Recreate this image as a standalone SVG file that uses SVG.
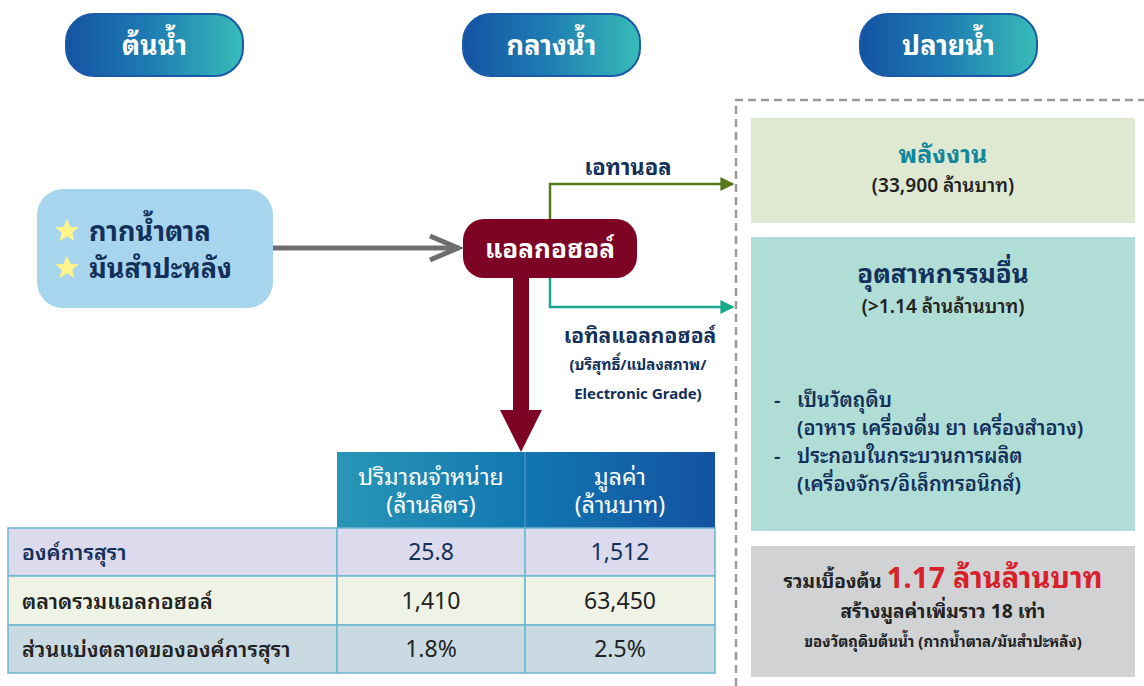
<svg xmlns="http://www.w3.org/2000/svg" width="1144" height="686" viewBox="0 0 1144 686">
<defs>
<linearGradient id="pill" x1="0" y1="0" x2="1" y2="0">
<stop offset="0" stop-color="#1453a3"/><stop offset="0.5" stop-color="#1f7fb3"/><stop offset="1" stop-color="#38bcb8"/>
</linearGradient>
<linearGradient id="thead" x1="0" y1="0" x2="1" y2="0">
<stop offset="0" stop-color="#2996b6"/><stop offset="0.5" stop-color="#1177b0"/><stop offset="1" stop-color="#1452a2"/>
</linearGradient>
<polygon id="star" points="0,-12 3.5,-4.2 11.8,-3.7 5.4,1.8 7.4,10 0,5.5 -7.4,10 -5.4,1.8 -11.8,-3.7 -3.5,-4.2" fill="#fff38c"/>
<marker id="mGreen" viewBox="0 0 10 10" refX="9" refY="5" markerWidth="18" markerHeight="14" markerUnits="userSpaceOnUse" orient="auto"><path d="M0,0 L10,5 L0,10 z" fill="#567a1b"/></marker>
<marker id="mTeal" viewBox="0 0 10 10" refX="9" refY="5" markerWidth="18" markerHeight="14" markerUnits="userSpaceOnUse" orient="auto"><path d="M0,0 L10,5 L0,10 z" fill="#1aa98c"/></marker>
</defs>
<style>
text{font-family:"Noto Sans Thai Looped","Noto Sans Thai","Noto Sans","DejaVu Sans",sans-serif}
.hdr{fill:#fff;font-size:27px;font-weight:bold;text-anchor:middle}
.pill{fill:url(#pill);stroke:#1a5aa8;stroke-width:2}
.navy{fill:#12305a}
.dark{fill:#222}
.c{text-anchor:middle}
.cell{stroke:#6cb6cf;stroke-width:1.5}
</style>

<g id="hdr-up"><rect class="pill" x="66" y="14" width="177" height="62" rx="28"/><text class="hdr" x="154.5" y="55">ต้นน้ำ</text></g>
<g id="hdr-mid"><rect class="pill" x="463" y="14" width="177" height="62" rx="28"/><text class="hdr" x="551.5" y="55">กลางน้ำ</text></g>
<g id="hdr-down"><rect class="pill" x="860" y="14" width="177" height="62" rx="28"/><text class="hdr" x="948.5" y="55">ปลายน้ำ</text></g>

<g id="dashed-frame"><path d="M736,686 V100 H1144" fill="none" stroke="#9a9a9a" stroke-width="2.5" stroke-dasharray="8,5"/></g>

<g id="raw">
<rect x="37" y="189" width="236" height="119" rx="26" fill="#a8d5ee"/>
<use href="#star" x="67" y="231"/>
<use href="#star" x="67" y="268"/>
<text class="navy" x="89" y="241" font-size="27" font-weight="bold">กากน้ำตาล</text>
<text class="navy" x="89" y="278" font-size="27" font-weight="bold">มันสำปะหลัง</text>
</g>

<g id="alcohol">
<rect x="463" y="219" width="174" height="59" rx="21" fill="#7d0424"/>
<text x="550" y="258" font-size="26" font-weight="bold" fill="#fff" class="c">แอลกอฮอล์</text>
</g>

<g id="connectors">
<line x1="273" y1="248" x2="455" y2="248" stroke="#6d6e70" stroke-width="5"/>
<path d="M430,236 L458,248 L430,260" fill="none" stroke="#6d6e70" stroke-width="5" stroke-linejoin="miter"/>
<path d="M550,219 V184 H733" fill="none" stroke="#567a1b" stroke-width="2.5" marker-end="url(#mGreen)"/>
<path d="M550,278 V307 H733" fill="none" stroke="#1aa98c" stroke-width="2.5" marker-end="url(#mTeal)"/>
<rect x="513" y="278" width="16" height="134" fill="#7d0424"/>
<polygon points="500,410 542,410 521,452" fill="#7d0424"/>
</g>

<g id="labels">
<text class="navy c" x="628" y="175" font-size="22" font-weight="bold">เอทานอล</text>
<text class="navy c" x="640" y="343" font-size="21" font-weight="bold">เอทิลแอลกอฮอล์</text>
<text class="navy c" x="638" y="370" font-size="15" font-weight="bold">(บริสุทธิ์/แปลงสภาพ/</text>
<text class="navy c" x="638" y="399" font-size="15" font-weight="bold">Electronic Grade)</text>
</g>

<g id="energy">
<rect x="751" y="118" width="384" height="105" fill="#dfe9d2"/>
<text class="c" x="943" y="163" font-size="25" font-weight="bold" fill="#12879c">พลังงาน</text>
<text class="c dark" x="943" y="192" font-size="19" font-weight="600">(33,900 ล้านบาท)</text>
</g>

<g id="industry">
<rect x="751" y="237" width="384" height="294" fill="#b0ddd6"/>
<text class="c navy" x="943" y="283" font-size="26" font-weight="bold">อุตสาหกรรมอื่น</text>
<text class="c dark" x="943" y="313" font-size="19" font-weight="600">(&gt;1.14 ล้านล้านบาท)</text>
<g font-size="20" font-weight="600">
<text class="navy" x="774" y="407">-</text><text class="navy" x="797" y="407">เป็นวัตถุดิบ</text>
<text class="navy" x="797" y="435">(อาหาร เครื่องดื่ม ยา เครื่องสำอาง)</text>
<text class="navy" x="774" y="463">-</text><text class="navy" x="797" y="463">ประกอบในกระบวนการผลิต</text>
<text class="navy" x="797" y="491">(เครื่องจักร/อิเล็กทรอนิกส์)</text>
</g>
</g>

<g id="summary">
<rect x="751" y="546" width="384" height="131" fill="#d1d2d4"/>
<text class="c dark" x="943" y="588" font-weight="bold"><tspan font-size="19">รวมเบื้องต้น </tspan><tspan font-size="29" fill="#d8202a">1.17 ล้านล้านบาท</tspan></text>
<text class="c dark" x="943" y="618" font-size="19" font-weight="bold">สร้างมูลค่าเพิ่มราว 18 เท่า</text>
<text class="c dark" x="943" y="647" font-size="15" font-weight="bold">ของวัตถุดิบต้นน้ำ (กากน้ำตาล/มันสำปะหลัง)</text>
</g>

<g id="table">
<rect x="337" y="452" width="378" height="76" fill="url(#thead)"/>
<line x1="525" y1="452" x2="525" y2="528" stroke="#4a90c0" stroke-width="1.5"/>
<text class="c" x="431" y="485" font-size="23" fill="#fff">ปริมาณจำหน่าย</text>
<text class="c" x="431" y="513" font-size="23" fill="#fff">(ล้านลิตร)</text>
<text class="c" x="620" y="485" font-size="23" fill="#fff">มูลค่า</text>
<text class="c" x="620" y="513" font-size="23" fill="#fff">(ล้านบาท)</text>
<rect class="cell" x="8" y="528" width="329" height="48" fill="#dcdaed"/>
<rect class="cell" x="337" y="528" width="188" height="48" fill="#dcdaed"/>
<rect class="cell" x="525" y="528" width="190" height="48" fill="#dcdaed"/>
<rect class="cell" x="8" y="576" width="329" height="49" fill="#eef3e6"/>
<rect class="cell" x="337" y="576" width="188" height="49" fill="#eef3e6"/>
<rect class="cell" x="525" y="576" width="190" height="49" fill="#eef3e6"/>
<rect class="cell" x="8" y="625" width="329" height="48" fill="#c9dae2"/>
<rect class="cell" x="337" y="625" width="188" height="48" fill="#c9dae2"/>
<rect class="cell" x="525" y="625" width="190" height="48" fill="#c9dae2"/>
<g font-size="21.5">
<text class="navy" x="22" y="560" font-weight="600">องค์การสุรา</text>
<text class="dark" x="22" y="609" font-weight="600">ตลาดรวมแอลกอฮอล์</text>
<text class="dark" x="22" y="657" font-weight="600">ส่วนแบ่งตลาดขององค์การสุรา</text>
</g>
<g font-size="23">
<text class="navy c" x="431" y="560">25.8</text>
<text class="navy c" x="620" y="560">1,512</text>
<text class="dark c" x="431" y="609">1,410</text>
<text class="dark c" x="620" y="609">63,450</text>
<text class="dark c" x="431" y="657">1.8%</text>
<text class="dark c" x="620" y="657">2.5%</text>
</g>
</g>
</svg>
